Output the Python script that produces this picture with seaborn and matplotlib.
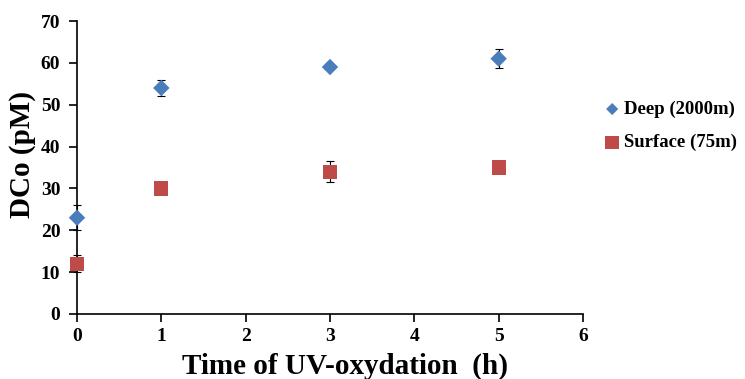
import matplotlib
matplotlib.use("Agg")
import matplotlib.pyplot as plt
import seaborn as sns
import pandas as pd

times = [0, 1, 3, 5]
deep_values = [23.0, 54.0, 59.0, 61.0]
deep_err = [3.0, 2.0, 0.5, 2.2]
surface_values = [12.0, 30.0, 34.0, 35.0]
surface_err = [2.0, 0.5, 2.5, 1.3]
series_names = ["Deep (2000m)", "Surface (75m)"]
colors = ["#4A7EBB", "#BE4B48"]
markers = ["D", "s"]
marker_sizes = [70, 105]
legend_sizes = [38, 95]

sns.set_theme(style="ticks")
plt.rcParams['font.family'] = ['Liberation Serif', 'DejaVu Serif']
plt.rcParams['font.weight'] = 'bold'
for k in ['text.color', 'axes.labelcolor', 'xtick.color', 'ytick.color', 'axes.edgecolor']:
    plt.rcParams[k] = 'black'

df = pd.DataFrame({
    "time": times * 2,
    "value": deep_values + surface_values,
    "err": deep_err + surface_err,
    "series": [series_names[0]] * 4 + [series_names[1]] * 4,
})

fig = plt.figure(figsize=(7.45, 3.79), dpi=100)
ax = fig.add_axes([77/745, 1 - 314/379, (583-77)/745, (314-21)/379])

for name, c, m, sz in zip(series_names, colors, markers, marker_sizes):
    sub = df[df.series == name]
    ax.errorbar(sub.time, sub.value, yerr=sub.err, fmt='none', ecolor='black',
                elinewidth=0.8, capsize=3, capthick=0.8, zorder=2, clip_on=False)
    sns.scatterplot(data=sub, x="time", y="value", color=c, marker=m, s=sz,
                    ax=ax, edgecolor='none', zorder=3, label=name, clip_on=False)

ax.set_xlim(0, 6)
ax.set_ylim(0, 70)
ax.set_xticks(range(0, 7))
ax.set_yticks(range(0, 71, 10))
ax.tick_params(axis='both', labelsize=14, direction='out', length=6, width=1.2,
               color='black', labelcolor='black')
for lab in ax.get_xticklabels() + ax.get_yticklabels():
    lab.set_fontweight('bold')
ax.tick_params(axis='x', pad=4)
ax.tick_params(axis='y', pad=6)
for s in ['top', 'right']:
    ax.spines[s].set_visible(False)
for s in ['left', 'bottom']:
    ax.spines[s].set_linewidth(1.2)
    ax.spines[s].set_color('black')

ax.set_xlabel("Time of UV-oxydation  (h)", fontsize=21, fontweight='bold')
ax.set_ylabel("DCo (pM)", fontsize=21, fontweight='bold')
# label positions in figure pixels -> axes coords
ax.xaxis.set_label_coords((345 - 77) / 506, (314 - 366) / 293)
ax.xaxis.label.set_va('center')
ax.yaxis.set_label_coords((23 - 77) / 506, (314 - 154) / 293)
ax.yaxis.label.set_va('center')

handles, labels = ax.get_legend_handles_labels()
leg = ax.legend(handles, labels, loc='center left', bbox_to_anchor=(600/745, 1 - 126/379),
                bbox_transform=fig.transFigure, frameon=False, handletextpad=0.0,
                handlelength=1.3, prop={'weight': 'bold', 'size': 13.5}, labelspacing=0.85,
                borderaxespad=0, borderpad=0)
for h, sz in zip(leg.legend_handles, legend_sizes):
    h.set_sizes([sz])

fig.savefig("out.png", dpi=100)
